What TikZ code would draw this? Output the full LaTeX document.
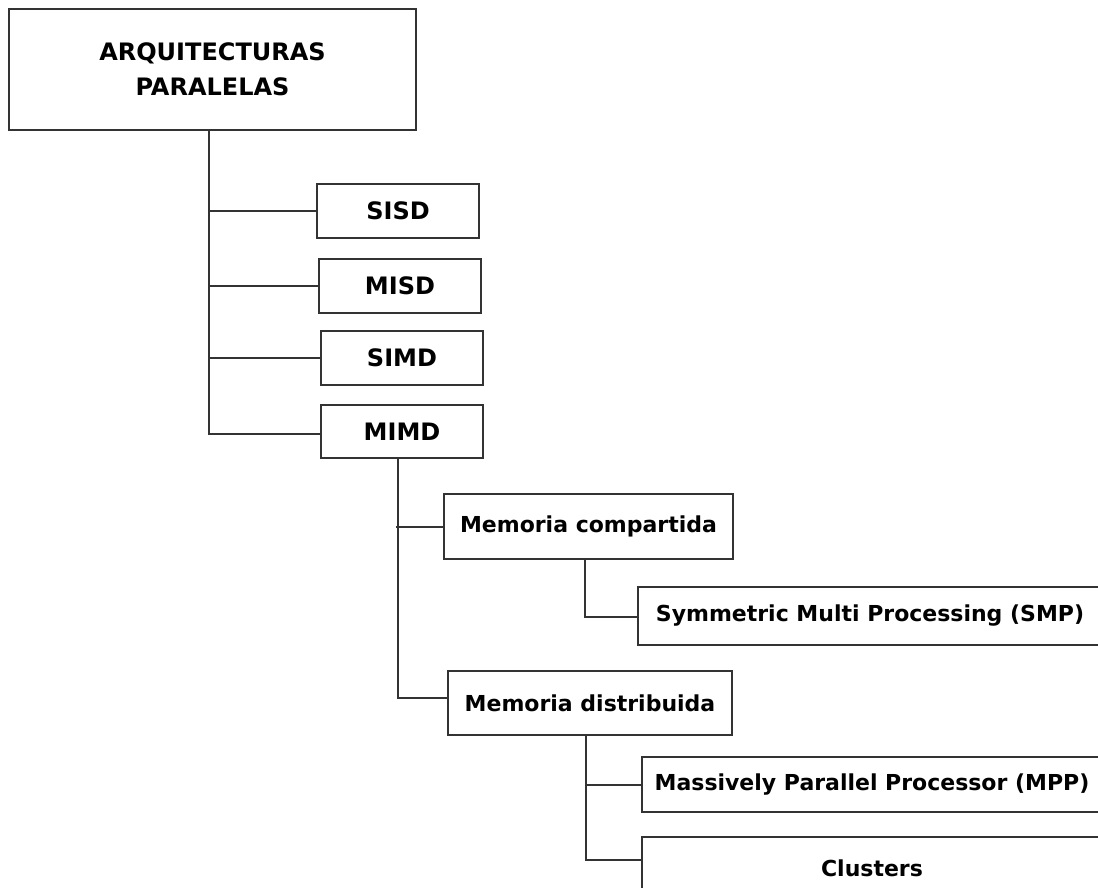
\documentclass[tikz,border=0pt]{standalone}
\usepackage{fontspec}
\setmainfont{DejaVu Sans}
\begin{document}
\begin{tikzpicture}[x=1pt,y=-1pt,
  box/.style={draw=linegray, line width=2pt, rectangle, inner sep=0pt, outer sep=0pt,
    font=\fontsize{22}{35}\selectfont\bfseries, text=black, align=center},
  capsbox/.style={box, font=\fontsize{24}{35}\selectfont\bfseries},
  link/.style={draw=linegray, line width=2pt}]
\definecolor{linegray}{HTML}{333333}
\useasboundingbox (0,0) rectangle (1098,888);
\clip (0,0) rectangle (1098,888);
\fill[white] (0,0) rectangle (1098,888);

% boxes
\node[capsbox, minimum width=407pt, minimum height=121pt] (root) at (212.5,69.5) {ARQUITECTURAS\\PARALELAS};
\node[capsbox, minimum width=162pt, minimum height=54pt] (sisd) at (398,211) {SISD};
\node[capsbox, minimum width=162pt, minimum height=54pt] (misd) at (400,286) {MISD};
\node[capsbox, minimum width=162pt, minimum height=54pt] (simd) at (402,358) {SIMD};
\node[capsbox, minimum width=162pt, minimum height=53pt] (mimd) at (402,431.5) {MIMD};
\node[box, minimum width=289pt, minimum height=65pt] (memc) at (588.5,526.5) {Memoria compartida};
\node[box, minimum width=464pt, minimum height=58pt] (smp) at (870,616) {Symmetric Multi Processing (SMP)};
\node[box, minimum width=284pt, minimum height=64pt] (memd) at (590,703) {Memoria distribuida};
\node[box, minimum width=460pt, minimum height=55pt] (mpp) at (872,784.5) {Massively Parallel Processor (MPP)};
\node[box, minimum width=460pt, minimum height=63pt] (clusters) at (872,868.5) {Clusters};

% branch points
\coordinate (t1) at (209,434);
\coordinate (t2) at (398,698);
\coordinate (t3) at (585,617);
\coordinate (t4) at (586,860);

% connectors
\draw[link] (root.south -| t1) -- (t1) -- (t1 -| mimd.west);
\draw[link] (sisd.west) -- (sisd.west -| t1);
\draw[link] (misd.west) -- (misd.west -| t1);
\draw[link] (simd.west) -- (simd.west -| t1);
\draw[link] (mimd.south -| t2) -- (t2) -- (t2 -| memd.west);
\draw[link] (memc.west) -- ([xshift=-2pt]memc.west -| t2);
\draw[link] (memc.south -| t3) -- (t3) -- (t3 -| smp.west);
\draw[link] (memd.south -| t4) -- (t4) -- (t4 -| clusters.west);
\draw[link] (mpp.west) -- (mpp.west -| t4);
\end{tikzpicture}
\end{document}
